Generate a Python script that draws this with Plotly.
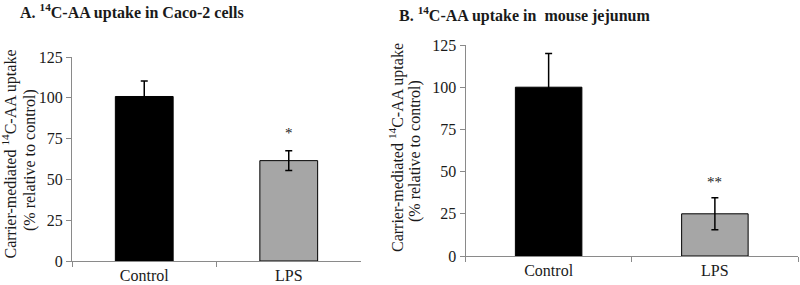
import plotly.graph_objects as go

categories = ["Control", "LPS"]
bar_colors = ["#000000", "#A6A6A6"]

# Panel A: Caco-2 cells
a_values = [100.8, 61.5]
a_errors = [9.5, 6.0]
a_sig = ["", "*"]
a_sig_y = [None, 78.5]

# Panel B: mouse jejunum
b_values = [100.0, 25.0]
b_errors = [20.0, 9.5]
b_sig = ["", "**"]
b_sig_y = [None, 44.0]

y_ticks = [0, 25, 50, 75, 100, 125]

title_a = "<b>A. <sup>14</sup>C-AA uptake in Caco-2 cells</b>"
title_b = "<b>B. <sup>14</sup>C-AA uptake in  mouse jejunum</b>"
y_title_1 = "Carrier-mediated <sup>14</sup>C-AA uptake"
y_title_2 = "(% relative to control)"

FONT = "Liberation Serif, Tinos, 'Times New Roman', Times, serif"
TXT = "#1a1a1a"
AXC = "#8a8a8a"
W, H = 800, 285

fig = go.Figure()

for vals, errs, xa, ya in [(a_values, a_errors, "x", "y"), (b_values, b_errors, "x2", "y2")]:
    fig.add_trace(go.Bar(
        x=categories, y=vals, xaxis=xa, yaxis=ya,
        marker=dict(color=bar_colors, line=dict(color="#000000", width=1)),
        width=0.4,
        error_y=dict(type="data", array=errs, visible=True, color="#000000", thickness=1.5, width=3.5),
        showlegend=False, hoverinfo="skip",
    ))

for sig, sy, xr, yr in [(a_sig, a_sig_y, "x", "y"), (b_sig, b_sig_y, "x2", "y2")]:
    for c, s, yv in zip(categories, sig, sy):
        if s:
            fig.add_annotation(x=c, y=yv, xref=xr, yref=yr, text=s, showarrow=False,
                               font=dict(family=FONT, size=15, color=TXT))

xcommon = dict(type="category", showline=True, linecolor=AXC, linewidth=1, automargin=False,
               ticks="outside", tickson="boundaries", ticklen=5, tickcolor=AXC,
               tickfont=dict(family=FONT, size=16, color=TXT), showgrid=False, zeroline=False)
ycommon = dict(range=[0, 125], tickvals=y_ticks, showline=True, linecolor=AXC, linewidth=1,
               automargin=False, ticks="outside", ticklen=5, tickcolor=AXC,
               tickfont=dict(family=FONT, size=16, color=TXT), showgrid=False, zeroline=False)

fig.update_layout(
    width=W, height=H,
    margin=dict(l=0, r=0, t=0, b=0, pad=0, autoexpand=False),
    paper_bgcolor="white", plot_bgcolor="white",
    font=dict(family=FONT, color=TXT),
    xaxis=dict(domain=[72 / W, 361 / W], anchor="y", **xcommon),
    yaxis=dict(domain=[(H - 261) / H, (H - 57) / H], anchor="x", **ycommon),
    xaxis2=dict(domain=[465.5 / W, 798 / W], anchor="y2", **xcommon),
    yaxis2=dict(domain=[(H - 256) / H, (H - 45) / H], anchor="x2", **ycommon),
    bargap=0.6,
)

def paper_text(px, py, text, size, angle=0, anchor="center"):
    fig.add_annotation(x=px / W, y=1 - py / H, xref="paper", yref="paper",
                       xanchor=anchor, yanchor="middle", text=text, showarrow=False,
                       textangle=angle, borderpad=0,
                       font=dict(family=FONT, size=size, color=TXT))

paper_text(19, 11, title_a, 16, anchor="left")
paper_text(398, 14, title_b, 16, anchor="left")

paper_text(9.5, 154, y_title_1, 16, angle=-90)
paper_text(30, 160, y_title_2, 16, angle=-90)
paper_text(397, 148, y_title_1, 16, angle=-90)
paper_text(415, 151, y_title_2, 16, angle=-90)

fig.write_html("out.html", config={"displayModeBar": False},
               post_script="document.body.style.margin='0px';document.body.style.overflow='hidden';")
